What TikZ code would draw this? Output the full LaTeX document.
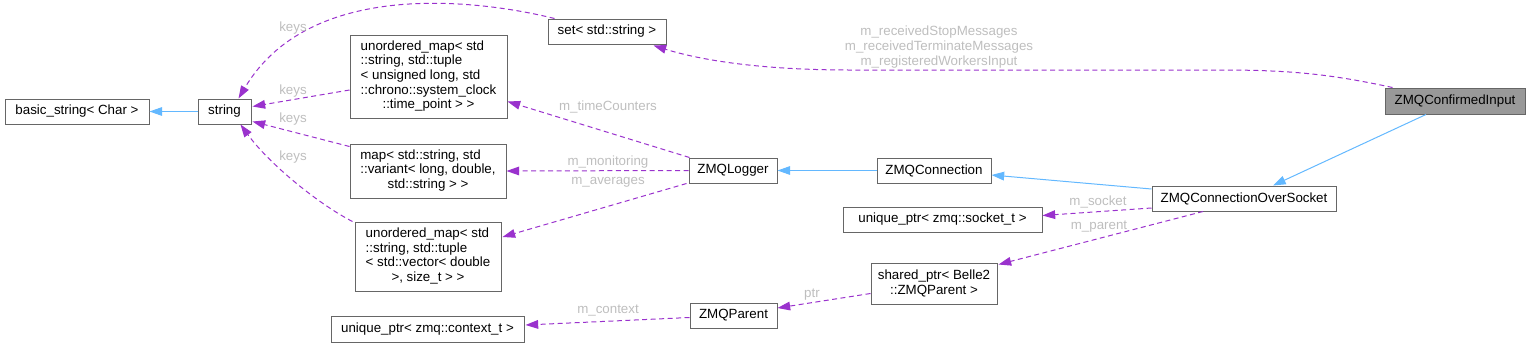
\documentclass[tikz,border=0pt]{standalone}
\usepackage{fontspec}
\setmainfont{Liberation Sans}
\usetikzlibrary{arrows.meta,calc}
\definecolor{edgep}{HTML}{9A32CD}
\definecolor{inhb}{HTML}{63B8FF}
\definecolor{bord}{HTML}{666666}
\definecolor{labg}{HTML}{BEBEBE}
\definecolor{cifill}{HTML}{999999}
\tikzset{
  box/.style={draw=bord, line width=0.75pt, fill=white, inner sep=0pt,
    font=\fontsize{10}{11}\selectfont, align=center},
  rel/.style={draw=edgep, line width=0.75pt, dash pattern=on 3.75pt off 2.6pt,
    -{Triangle[length=9.5pt,width=6.5pt]}},
  inh/.style={draw=inhb, line width=0.75pt, -{Triangle[length=9.5pt,width=6.5pt]}},
  lab/.style={text=labg, font=\fontsize{10}{11}\selectfont, inner sep=0pt, align=center}
}
\begin{document}
\begin{tikzpicture}[x=0.75pt,y=-0.75pt]
\useasboundingbox (0,0) rectangle (1531,347);
% nodes
\node[box, minimum width=108pt, minimum height=18.75pt] (bstr) at (77,111.5) {basic\_string< Char >};
\node[box, minimum width=39.75pt, minimum height=18.75pt] (str) at (224.5,111.5) {string};
\node[box, minimum width=117.75pt, minimum height=62.25pt] (umt) at (428.5,76.5)
  {\begin{tabular}{@{}l@{}}unordered\_map< std\\::string, std::tuple\\< unsigned long, std\\::chrono::system\_clock\\\multicolumn{1}{@{}c@{}}{::time\_point > >}\end{tabular}};
\node[box, minimum width=117pt, minimum height=40.5pt] (mapn) at (428,171)
  {\begin{tabular}{@{}l@{}}map< std::string, std\\::variant< long, double,\\\multicolumn{1}{@{}c@{}}{std::string > >}\end{tabular}};
\node[box, minimum width=109.5pt, minimum height=51.75pt] (umv) at (428,256.5)
  {\begin{tabular}{@{}l@{}}unordered\_map< std\\::string, std::tuple\\< std::vector< double\\\multicolumn{1}{@{}c@{}}{>, size\_t > >}\end{tabular}};
\node[box, minimum width=144.75pt, minimum height=19.5pt] (upc) at (427.5,329) {unique\_ptr< zmq::context\_t >};
\node[box, minimum width=88.5pt, minimum height=18.75pt] (set) at (607,31.5) {set< std::string >};
\node[box, minimum width=66pt, minimum height=18.75pt] (logger) at (733,170.5) {ZMQLogger};
\node[box, minimum width=85.5pt, minimum height=18.75pt] (conn) at (934,170.5) {ZMQConnection};
\node[box, minimum width=149.25pt, minimum height=18.75pt] (ups) at (942.5,219.5) {unique\_ptr< zmq::socket\_t >};
\node[box, minimum width=94.5pt, minimum height=30.75pt] (shp) at (934,283.5) {shared\_ptr< Belle2\\::ZMQParent >};
\node[box, minimum width=65.25pt, minimum height=18.75pt] (parent) at (733.5,315.5) {ZMQParent};
\node[box, minimum width=138pt, minimum height=18.75pt] (cos) at (1244,198.5) {ZMQConnectionOverSocket};
\node[box, fill=cifill, minimum width=105pt, minimum height=19.5pt] (ci) at (1455,101) {ZMQConfirmedInput};
% inheritance
\draw[inh] (str) -- (bstr);
\draw[inh] (conn) -- (logger);
\draw[inh] ($(cos.west)+(0,-9.5)$) -- ($(conn.east)+(0,4.5)$);
\draw[inh] ($(ci.south)+(-29,0)$) -- ($(cos.north)+(29,0)$);
% usage
\draw[rel] ($(set.north west)+(7,0)$) .. controls (480,0) and (310,-22) .. ($(str.north)+(14,0)$);
\draw[rel] ($(umt.west)+(0,13.5)$) -- ($(str.east)+(1,-5)$);
\draw[rel] ($(mapn.north west)+(0,3)$) -- ($(str.east)+(1,10)$);
\draw[rel] ($(umv.north west)+(-2,0)$) .. controls (320,205) and (270,165) .. ($(str.south)+(16,0)$);
\draw[rel] ($(ci.north west)+(8,0)$) .. controls (1330,74) and (1290,70) .. (1220,70) -- (850,70)
  .. controls (760,70) and (700,60) .. ($(set.south east)+(-13,1)$);
\draw[rel] ($(logger.north west)+(1,0)$) -- ($(umt.east)+(0,25)$);
\draw[rel] (logger.west) -- (mapn.east);
\draw[rel] ($(logger.south west)+(-2,0)$) -- ($(umv.east)+(1,-19.5)$);
\draw[rel] ($(cos.west)+(0,9.5)$) -- ($(ups.east)+(0,-4)$);
\draw[rel] ($(cos.south)+(-41,0)$) -- ($(shp.north east)+(1,2)$);
\draw[rel] ($(shp.west)+(0,10)$) -- ($(parent.east)+(0,-7.5)$);
\draw[rel] ($(parent.west)+(0,2)$) -- ($(upc.east)+(1,-4)$);
% labels
\node[lab] (l1) at (293,28) {keys};
\node[lab] (l2) at (293,91) {keys};
\node[lab] (l3) at (293,119) {keys};
\node[lab] (l4) at (293,157) {keys};
\node[lab] (l5) at (939,47) {m\_receivedStopMessages\\m\_receivedTerminateMessages\\m\_registeredWorkersInput};
\node[lab] (l6) at (608,107) {m\_timeCounters};
\node[lab] (l7) at (608,162) {m\_monitoring};
\node[lab] (l8) at (608,182) {m\_averages};
\node[lab] (l9) at (1098,202) {m\_socket};
\node[lab] (l10) at (1099,227) {m\_parent};
\node[lab] (l11) at (812,295) {ptr};
\node[lab] (l12) at (608,311) {m\_context};
\end{tikzpicture}
\end{document}
